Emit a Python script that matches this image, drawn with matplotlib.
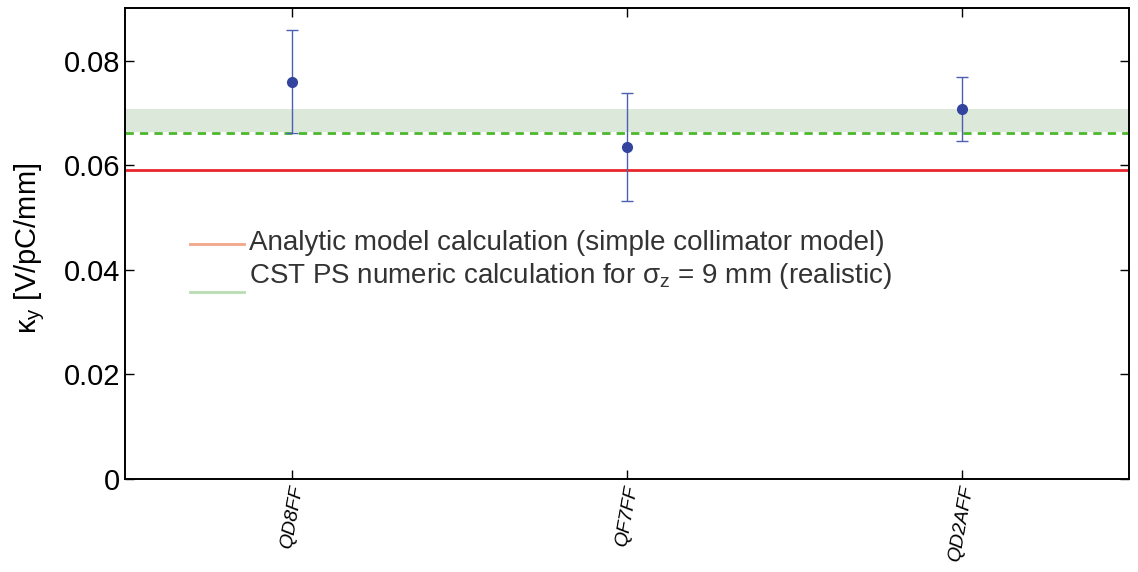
import matplotlib
matplotlib.use("Agg")
import matplotlib.pyplot as plt
import numpy as np

plt.rcParams['font.family'] = ['Liberation Sans', 'DejaVu Sans']
plt.rcParams['mathtext.fontset'] = 'custom'
plt.rcParams['mathtext.rm'] = 'Liberation Sans'
plt.rcParams['mathtext.it'] = 'Liberation Sans:italic'

# data
magnets = ["QD8FF", "QF7FF", "QD2AFF"]
kappa = [0.0760, 0.0635, 0.0708]
kappa_err = [0.0098, 0.0103, 0.0061]
analytic = 0.0591
cst = 0.0662
cst_band = [0.0664, 0.0708]

fig = plt.figure(figsize=(11.38, 5.72), dpi=100)
ax = fig.add_axes([125 / 1138, 1 - 479 / 572, (1129 - 125) / 1138, (479 - 8) / 572])

x = np.arange(1, len(magnets) + 1)

ax.axhspan(cst_band[0], cst_band[1], color="#dce9da", lw=0, zorder=1)
ax.axhline(analytic, color="#e8262b", lw=2, zorder=2)
ax.axhline(cst, color="#4cb82c", lw=2, ls=(0, (3, 2.2)), zorder=2)

ax.errorbar(x, kappa, yerr=kappa_err, fmt="o", color="#33449e", ms=7,
            ecolor="#4d5fb3", elinewidth=1, capsize=4.5, capthick=1, zorder=4)

# legend drawn on a white patch like the original
ax.add_patch(plt.Rectangle((0.06, 0.05), 0.92, 0.45, transform=ax.transAxes,
                           facecolor="white", edgecolor="none", zorder=3))
ax.plot([0.065, 0.119], [0.499, 0.499], transform=ax.transAxes,
        color="#f4a58a", lw=2, zorder=5)
ax.plot([0.065, 0.119], [0.397, 0.397], transform=ax.transAxes,
        color="#b9ddb2", lw=2, zorder=5)
ax.text(0.124, 0.500, "Analytic model calculation (simple collimator model)",
        transform=ax.transAxes, fontsize=20, color="#333333", va="center", zorder=5)
ax.text(0.124, 0.430, "CST PS numeric calculation for σ$_{\\mathrm{z}}$ = 9 mm (realistic)",
        transform=ax.transAxes, fontsize=20, color="#333333", va="center", zorder=5)

ax.set_xlim(0.5, 3.5)
ax.set_ylim(0, 0.0901)
ax.set_xticks(x)
ax.set_xticklabels(magnets, rotation=80, fontsize=14, style="italic")
ax.set_yticks([0, 0.02, 0.04, 0.06, 0.08])
ax.set_yticklabels(["0", "0.02", "0.04", "0.06", "0.08"], fontsize=21)
ax.tick_params(direction="in", top=True, right=True, length=6.5, width=1)
for s in ax.spines.values():
    s.set_linewidth(1.4)
ax.set_ylabel("κ$_{\\mathrm{y}}$ [V/pC/mm]", fontsize=21)
ax.yaxis.set_label_coords(-0.078, 0.49)

fig.savefig("out.png", dpi=100)
